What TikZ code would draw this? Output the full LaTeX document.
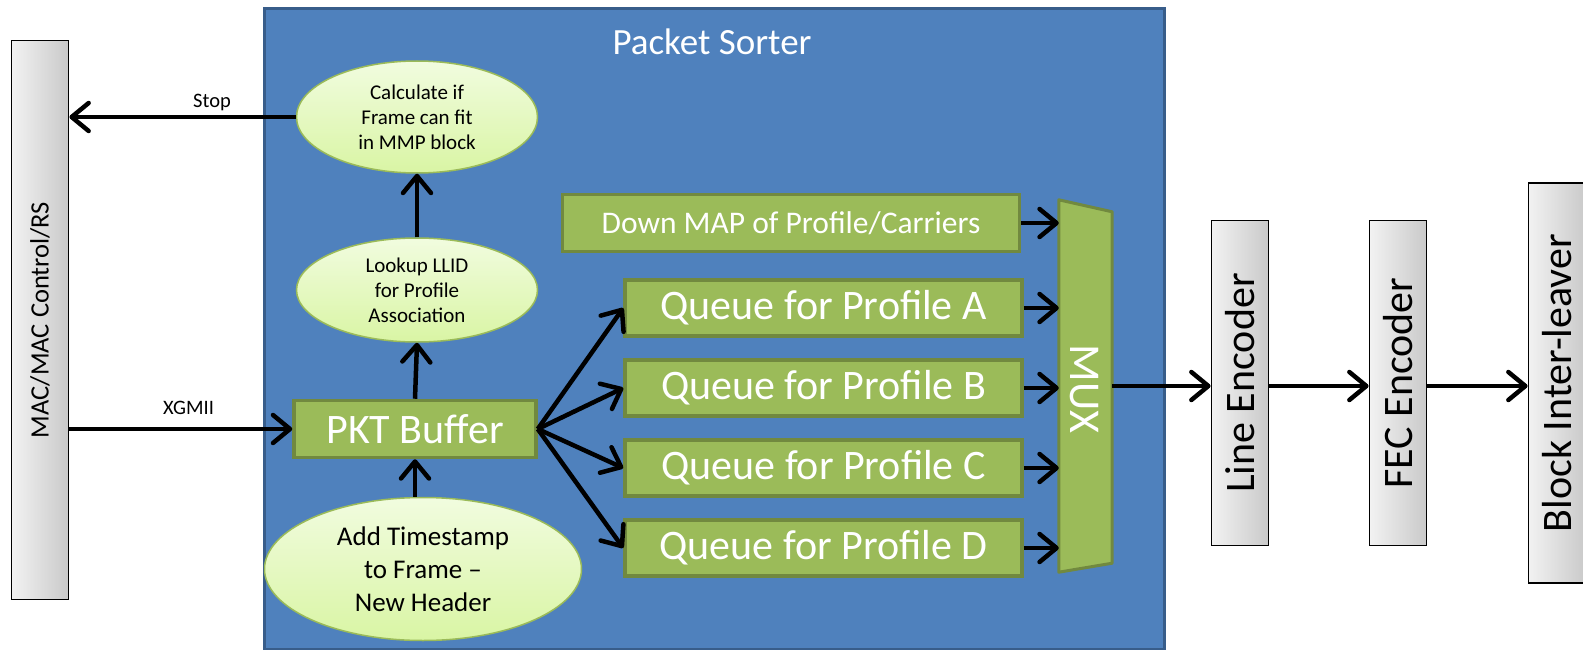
\documentclass[tikz,border=0pt]{standalone}
\usepackage{fontspec}
\setmainfont{Carlito}
\usetikzlibrary{arrows.meta,shapes.geometric}

\definecolor{sorterblue}{HTML}{4F81BD}
\definecolor{sorterline}{HTML}{385D8A}
\definecolor{boxgreen}{HTML}{9BBB59}
\definecolor{boxline}{HTML}{71893F}
\definecolor{ovaltop}{HTML}{F1FCDF}
\definecolor{ovalbottom}{HTML}{D9F5A4}
\newcommand\fs[1]{\fontsize{#1}{#1}\selectfont}

\begin{document}
\begin{tikzpicture}[x=1pt,y=-1pt,
    arr/.style={-{Straight Barb[length=17pt,width=28pt,round]},line width=4.5pt},
    bar/.style={draw=black,line width=1.8pt,left color=gray!10,right color=gray!42,minimum width=57,inner sep=0},
    bartext/.style={rotate=90,font=\fs{42}},
    greenbox/.style={draw=boxline,fill=boxgreen,line width=3.5pt,text=white,inner sep=0,font=\fs{42}},
    oval/.style={ellipse,draw=boxgreen,line width=1.5pt,top color=ovaltop,bottom color=ovalbottom,inner sep=0,align=center,font=\fontsize{21}{25}\selectfont}]
    \useasboundingbox (0,0) rectangle (1583,650);
    \clip (0,0) rectangle (1583,650);

    % the sorter block
    \node[draw=sorterline,fill=sorterblue,line width=3pt,minimum width=900,minimum height=641,anchor=north west] (sorter) at (263,7) {};
    \node[text=white,font=\fs{37}] (title) at (712,42) {Packet Sorter};

    \node[bar,minimum height=559,label={[bartext,font=\fs{26.5}]center:MAC/MAC Control/RS}] (mac) at (40,320) {};

    \node[oval,minimum width=241,minimum height=112] (fit) at (417,117) {Calculate if\\Frame can fit\\in MMP block};
    \node[oval,minimum width=241,minimum height=104] (llid) at (417,290) {Lookup LLID\\for Profile\\Association};
    \node[oval,minimum width=317,minimum height=143,font=\fontsize{27}{33}\selectfont] (stamp) at (423,569) {Add Timestamp\\to Frame --\\New Header};
    \node[greenbox,minimum width=242,minimum height=57] (buf) at (415,429) {PKT Buffer};

    \node[greenbox,minimum width=457,minimum height=57,font=\fs{31.5}] (map) at (791,223) {Down MAP of Profile/Carriers};
    \foreach \p [count=\i from 0] in {A,B,C,D}
        \node[greenbox,minimum width=397,minimum height=56] (q\p) at (823.5,308+80*\i) {Queue for Profile \p};

    % mux wedge
    \node[minimum width=53,minimum height=372,inner sep=0] (mux) at (1085.5,386) {};
    \draw[draw=boxline,fill=boxgreen,line width=3pt,line join=round] (mux.north west) -- ([yshift=-12pt]mux.north east)
        -- ([yshift=9pt]mux.south east) -- (mux.south west) -- cycle;
    \node[rotate=-90,text=white,font=\fs{44}] (muxtext) at (1084,389) {MUX};

    \node[bar,minimum height=325,label={[bartext]center:Line Encoder}] (line) at (1240,383) {};
    \node[bar,minimum height=325,label={[bartext]center:FEC Encoder}] (fec) at (1398,383) {};
    \node[bar,minimum height=400,label={[bartext]center:Block Inter-leaver}] (block) at (1557,383) {};

    % connections
    \draw[arr] (fit.west) -- (fit.west -| mac.east) node[pos=0.37,above=1pt,font=\fs{20.5}] {Stop};
    \draw[arr] (mac.east |- buf.west) -- (buf.west) node[pos=0.535,above=9pt,font=\fs{20.5}] {XGMII};
    \draw[arr] (llid.north) -- (fit.south);
    \draw[arr] (buf.north) -- (llid.south);
    \draw[arr] (buf.south |- stamp.north) -- (buf.south);
    \draw[arr] (map.east) -- (map.east -| mux.west);
    \foreach \p in {A,B,C,D} {
        \draw[arr] (buf.east) -- (q\p.west);
        \draw[arr] (q\p.east) -- (q\p.east -| mux.west);
    }
    \draw[arr] (mux.east) -- (mux.east -| line.west);
    \draw[arr] (line.east |- mux.east) -- (mux.east -| fec.west);
    \draw[arr] (fec.east |- mux.east) -- (mux.east -| block.west);
\end{tikzpicture}
\end{document}
